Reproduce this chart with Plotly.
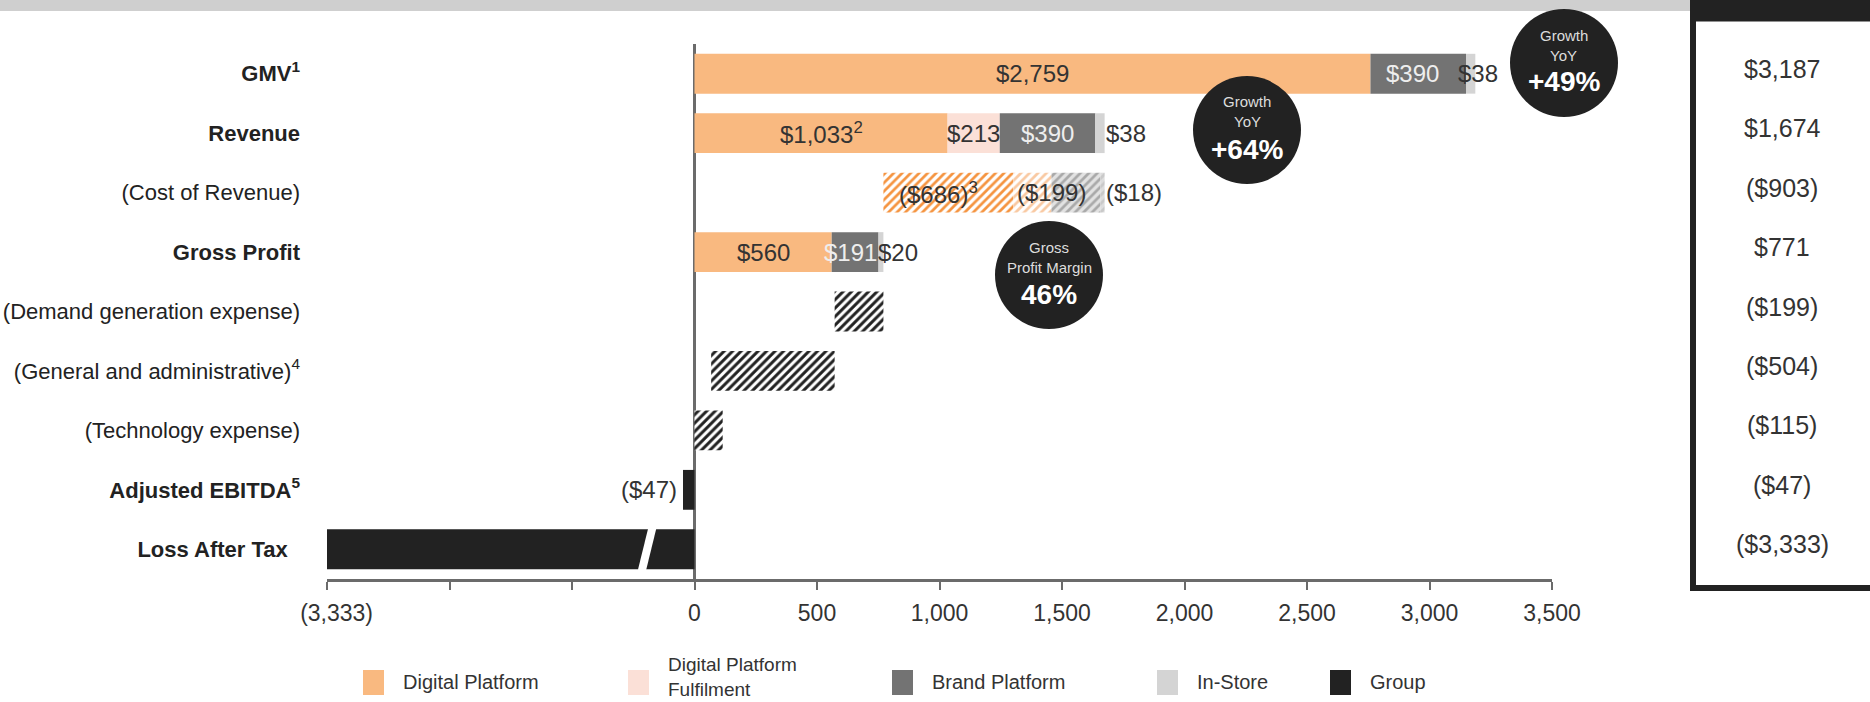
import plotly.graph_objects as go

# ---------------- data ----------------
categories = ["GMV", "Revenue", "(Cost of Revenue)", "Gross Profit",
              "(Demand generation expense)", "(General and administrative)",
              "(Technology expense)", "Adjusted EBITDA", "Loss After Tax"]
category_labels = ["<b>GMV<sup>1</sup></b>", "<b>Revenue</b>", "(Cost of Revenue)",
                   "<b>Gross Profit</b>", "(Demand generation expense)",
                   "(General and administrative)<sup>4</sup>", "(Technology expense)",
                   "<b>Adjusted EBITDA<sup>5</sup></b>", "<b>Loss After Tax</b>\u00a0\u00a0"]

series_names = ["Digital Platform", "Digital Platform<br>Fulfilment", "Brand Platform", "In-Store", "Group"]

# segments: digital, fulfilment, brand, in-store
gmv = [2759, 0, 390, 38]
revenue = [1033, 213, 390, 38]
cost_of_revenue = [530, 156, 199, 18]   # digital / fulfilment split estimated; combined = 686
gross_profit = [560, 0, 191, 20]
demand_generation = 199
general_admin = 504
technology = 115
adjusted_ebitda = -47
loss_after_tax = -3333

growth_gmv = "+49%"
growth_revenue = "+64%"

x_ticks = [-1500, -1000, -500, 0, 500, 1000, 1500, 2000, 2500, 3000, 3500]
axis_floor = -1500          # broken axis: Loss After Tax is drawn to this position

# ---------------- style ----------------
FONT = "Liberation Sans, Arial, sans-serif"
C_DIG, C_FUL, C_BRA, C_INS, C_GRP = "#F9B980", "#FBE0D7", "#737373", "#D4D4D4", "#222222"
seg_colors = [C_DIG, C_FUL, C_BRA, C_INS]
TXT = "#333333"

W, H = 1870, 702
ML, MR, MT, MB = 327, 318, 44, 123
PW, PH = W - ML - MR, H - MT - MB


def px(xp):
    return (xp - ML) / PW


def py(yp):
    return (H - MB - yp) / PH


def money(v):
    return f"${v:,}" if v >= 0 else f"(${abs(v):,})"


BW = 0.67
fig = go.Figure()

# solid stacked rows
solid_rows = {"GMV": gmv, "Revenue": revenue, "Gross Profit": gross_profit}
for i in range(4):
    ys, xs, bs = [], [], []
    for cat, vals in solid_rows.items():
        if vals[i]:
            ys.append(cat); xs.append(vals[i]); bs.append(sum(vals[:i]))
    fig.add_trace(go.Bar(y=ys, x=xs, base=bs, orientation="h", width=BW,
                         marker=dict(color=seg_colors[i], line=dict(width=0)),
                         showlegend=False, hoverinfo="skip"))

# cost of revenue (hatched, floating from gross profit to revenue)
gp_total = sum(gross_profit)
rev_total = sum(revenue)
cost_total = sum(cost_of_revenue)
cost_fg = ["#F59440", "#F9C9A2", "#A9A9A9", "#C9C9C9"]
cost_bg = ["#FFFFFF", "#FFFFFF", "#E2E2E2", "#DDDDDD"]
start = rev_total - cost_total
for i in range(4):
    fig.add_trace(go.Bar(y=[categories[2]], x=[cost_of_revenue[i]], base=[start + sum(cost_of_revenue[:i])],
                         orientation="h", width=BW,
                         marker=dict(color=cost_bg[i], line=dict(width=0),
                                     pattern=dict(shape="/", size=6, solidity=0.45, fgcolor=cost_fg[i],
                                                  fgopacity=1, fillmode="overlay")),
                         showlegend=False, hoverinfo="skip"))

# operating expenses (black hatched)
demand_base = gp_total - demand_generation
ga_base = demand_base - general_admin
tech_base = max(ga_base - technology, 0)
fig.add_trace(go.Bar(y=categories[4:7], x=[demand_generation, general_admin, technology],
                     base=[demand_base, ga_base, tech_base], orientation="h", width=BW,
                     marker=dict(color="#FFFFFF", line=dict(width=0),
                                 pattern=dict(shape="/", size=6, solidity=0.5, fgcolor=C_GRP,
                                              fgopacity=1, fillmode="overlay")),
                     showlegend=False, hoverinfo="skip"))

# group results
fig.add_trace(go.Bar(y=categories[7:9], x=[adjusted_ebitda, max(loss_after_tax, axis_floor)], base=[0, 0],
                     orientation="h", width=BW, marker=dict(color=C_GRP, line=dict(width=0)),
                     showlegend=False, hoverinfo="skip"))

ann = []


def lab(x, cat, text, color=TXT, xanchor="center", xshift=0, size=24):
    ann.append(dict(x=x, y=cat, xref="x", yref="y", text=text, showarrow=False,
                    xanchor=xanchor, yanchor="middle", xshift=xshift,
                    font=dict(family=FONT, size=size, color=color)))


# GMV labels
lab(gmv[0] / 2, "GMV", money(gmv[0]))
lab(gmv[0] + gmv[2] / 2, "GMV", money(gmv[2]), color="#EEEEEE", xshift=-6)
lab(gmv[0] + gmv[2], "GMV", money(gmv[3]), xanchor="left", xshift=-10)
# Revenue labels
lab(revenue[0] / 2, "Revenue", money(revenue[0]) + "<sup>2</sup>")
lab(revenue[0] + revenue[1] / 2, "Revenue", money(revenue[1]))
lab(revenue[0] + revenue[1] + revenue[2] / 2, "Revenue", money(revenue[2]), color="#EEEEEE")
lab(rev_total, "Revenue", money(revenue[3]), xanchor="left", xshift=-1)
# Cost labels
lab(start, categories[2], money(-(cost_of_revenue[0] + cost_of_revenue[1])) + "<sup>3</sup>",
    xanchor="left", xshift=14)
lab(rev_total - cost_of_revenue[3], categories[2], money(-cost_of_revenue[2]), xanchor="right", xshift=-12)
lab(rev_total, categories[2], money(-cost_of_revenue[3]), xanchor="left", xshift=-1)
# Gross profit labels
lab(gross_profit[0] / 2, "Gross Profit", money(gross_profit[0]))
lab(gross_profit[0] + gross_profit[2] / 2, "Gross Profit", money(gross_profit[2]), color="#EEEEEE", xshift=-5)
lab(gross_profit[0] + gross_profit[2], "Gross Profit", money(gross_profit[3]), xanchor="left", xshift=-3)
# EBITDA
lab(adjusted_ebitda, "Adjusted EBITDA", money(adjusted_ebitda), xanchor="right", xshift=-4)

# right-hand totals
totals = [sum(gmv), rev_total, -cost_total, gp_total, -demand_generation, -general_admin,
          -technology, adjusted_ebitda, loss_after_tax]
for cat, v in zip(categories, totals):
    ann.append(dict(x=px(1782), y=cat, xref="paper", yref="y", text=money(v), showarrow=False,
                    xanchor="center", yanchor="middle", yshift=5,
                    font=dict(family=FONT, size=25, color=TXT)))

shapes = []
# top grey band and right panel frame
shapes.append(dict(type="rect", xref="paper", yref="paper", x0=px(0), x1=px(1690), y0=py(0), y1=py(11),
                   fillcolor="#CFCFCF", line=dict(width=0), layer="below"))
shapes.append(dict(type="rect", xref="paper", yref="paper", x0=px(1690), x1=px(1880), y0=py(-5), y1=py(21.5),
                   fillcolor=C_GRP, line=dict(width=0)))
shapes.append(dict(type="rect", xref="paper", yref="paper", x0=px(1690), x1=px(1696), y0=py(0), y1=py(591),
                   fillcolor=C_GRP, line=dict(width=0)))
shapes.append(dict(type="rect", xref="paper", yref="paper", x0=px(1690), x1=px(1880), y0=py(585), y1=py(591),
                   fillcolor=C_GRP, line=dict(width=0)))

# axis break on the loss bar
shapes.append(dict(type="line", xref="x", yref="y", x0=-215, x1=-172, y0=8.36, y1=7.64,
                   line=dict(color="white", width=8)))

# circles
circles = [
    (1564, 63, ["Growth", "YoY", growth_gmv]),
    (1247, 130, ["Growth", "YoY", growth_revenue]),
    (1049, 275, ["Gross", "Profit Margin", f"{round(100 * gp_total / rev_total)}%"]),
]
R = 54
for cx, cy, lines in circles:
    shapes.append(dict(type="circle", xref="paper", yref="paper", x0=px(cx - R), x1=px(cx + R),
                       y0=py(cy + R), y1=py(cy - R), fillcolor=C_GRP, line=dict(width=0)))
    offs = [-28, -8, 19]
    sizes = [15, 15, 28]
    for j, t in enumerate(lines):
        ann.append(dict(x=px(cx), y=py(cy + offs[j]), xref="paper", yref="paper", showarrow=False,
                        xanchor="center", yanchor="middle",
                        text=("<b>" + t + "</b>") if j == 2 else t,
                        font=dict(family=FONT, size=sizes[j], color="#FFFFFF" if j == 2 else "#DDDDDD")))

# manual legend
legend_colors = [C_DIG, C_FUL, C_BRA, C_INS, C_GRP]
legend_sw_x = [363, 628, 892, 1157, 1330]
for name, col, sx in zip(series_names, legend_colors, legend_sw_x):
    shapes.append(dict(type="rect", xref="paper", yref="paper", x0=px(sx), x1=px(sx + 21),
                       y0=py(695), y1=py(670), fillcolor=col, line=dict(width=0)))
    ty = 677 if "<br>" in name else 682
    ann.append(dict(x=px(sx + 39), y=py(ty), xref="paper", yref="paper", text=name, showarrow=False,
                    xanchor="left", yanchor="middle", align="left", borderpad=0,
                    font=dict(family=FONT, size=19 if "<br>" in name else 20, color=TXT)))

tick_text = ["\u00a0\u00a0\u00a0" + f"({abs(loss_after_tax):,})" if v == axis_floor else ("" if v < 0 else f"{v:,}")
             for v in x_ticks]

fig.update_layout(
    width=W, height=H, margin=dict(l=ML, r=MR, t=MT, b=MB, autoexpand=False),
    paper_bgcolor="white", plot_bgcolor="white", barmode="overlay",
    showlegend=False, font=dict(family=FONT, color=TXT),
    xaxis=dict(range=[axis_floor, 3500], tickvals=x_ticks, ticktext=tick_text, automargin=False,
               showgrid=False, zeroline=True, zerolinecolor="#6B6B6B", zerolinewidth=2.5,
               showline=True, linecolor="#6B6B6B", linewidth=2.5,
               ticks="outside", ticklen=8, tickwidth=2, tickcolor="#6B6B6B",
               tickfont=dict(family=FONT, size=23, color=TXT), ticklabelstandoff=4, fixedrange=True),
    yaxis=dict(categoryorder="array", categoryarray=categories, autorange="reversed", automargin=False,
               tickvals=categories, ticktext=category_labels, showgrid=False, zeroline=False,
               showline=False, ticks="", tickfont=dict(family=FONT, size=22, color="#222222"),
               ticklabelstandoff=26, fixedrange=True),
    annotations=ann, shapes=shapes,
)

fig.write_html("out.html", config={"displayModeBar": False})
